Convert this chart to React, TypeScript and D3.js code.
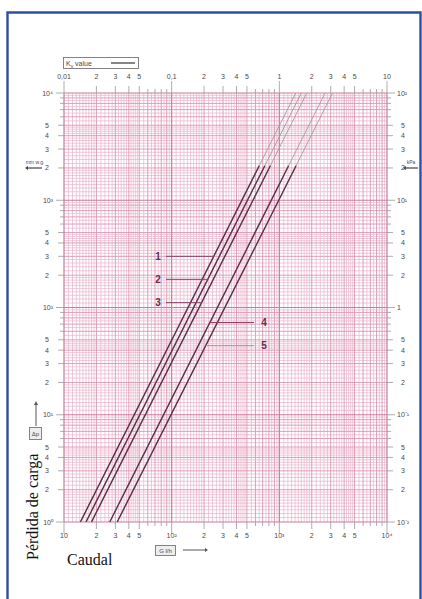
import React from "react";
import * as d3 from "d3";

// ---- data ----
const kvValues = [1.42, 1.6, 1.8, 2.66, 3.12];
const lineLabels = ["1", "2", "3", "4", "5"];
const labelDp = [3.0, 1.83, 1.11, 0.724, 0.441]; // kPa where leaders meet the lines
const flowDomainLh = [10, 10000];
const flowDomainM3h = [0.01, 10];
const dpDomainKpa = [0.01, 100];
const dpDomainMm = [1, 10000];
const darkMaxKpa = 21;
const minorLabelDigits = [2, 3, 4, 5];
const bottomDecadeLabels = ["10", "10²", "10³", "10⁴"];
const topDecadeLabels = ["0,01", "0,1", "1", "10"];
const leftDecadeLabels = ["10⁰", "10¹", "10²", "10³", "10⁴"];
const rightDecadeLabels = ["10⁻²", "10⁻¹", "1", "10¹", "10²"];

const W = 422, H = 599;
const L = 64, R = 387, T = 93, B = 522;

function subdivisions(decade: number): number[] {
  const out: number[] = [];
  for (let v = 1.1; v < 2 - 1e-9; v += 0.1) out.push(+v.toFixed(2) * decade);
  for (let v = 2.2; v < 5 - 1e-9; v += 0.2) out.push(+v.toFixed(2) * decade);
  for (let v = 5.5; v < 10 - 1e-9; v += 0.5) out.push(+v.toFixed(2) * decade);
  return out.filter((v) => Math.abs(v / decade - Math.round(v / decade)) > 1e-6);
}

export default function App() {
  const x = d3.scaleLog().domain(flowDomainLh).range([L, R]);
  const xTop = d3.scaleLog().domain(flowDomainM3h).range([L, R]);
  const y = d3.scaleLog().domain(dpDomainKpa).range([B, T]);
  const yMm = d3.scaleLog().domain(dpDomainMm).range([B, T]);

  const xDecades = [10, 100, 1000];
  const yDecades = [0.01, 0.1, 1, 10];

  const xMinor = xDecades.flatMap(subdivisions);
  const yMinor = yDecades.flatMap(subdivisions);
  const xInt = xDecades.flatMap((d) => d3.range(2, 10).map((k) => k * d));
  const yInt = yDecades.flatMap((d) => d3.range(2, 10).map((k) => k * d));
  const xDec = [10, 100, 1000, 10000];
  const yDec = [0.01, 0.1, 1, 10, 100];

  const flowAt = (kv: number, dp: number) => kv * Math.sqrt(dp / 100) * 1000; // l/h
  const line = d3
    .line<[number, number]>()
    .x((d) => x(d[0]))
    .y((d) => y(d[1]));

  const pink = "#e9b2c8";
  const pinkMid = "#db95b2";
  const pinkDec = "#cc7a9e";
  const maroon = "#5e3049";
  const tickCol = "#999";
  const txt = "#4a4a4a";

  const topTickVals = xDecades.flatMap((d) => d3.range(1, 10).map((k) => k * d)).concat([10000]);
  const yTickVals = yDecades.flatMap((d) => d3.range(1, 10).map((k) => k * d)).concat([100]);

  return (
    <svg
      width={W}
      height={H}
      style={{ position: "absolute", left: 0, top: 0, background: "#fff" }}
      fontFamily="'Liberation Sans', Arial, sans-serif"
    >
      <rect x={0} y={0} width={W} height={H} fill="#fff" />
      {/* blue frame */}
      <path d={`M7.5,${H} V12.5 H420.5 V${H}`} fill="none" stroke="#2d4fa3" strokeWidth={2.4} />

      {/* grid */}
      <g>
        {xMinor.map((v, i) => (
          <line key={"xm" + i} x1={x(v)} x2={x(v)} y1={T} y2={B} stroke={pink} strokeWidth={0.7} />
        ))}
        {yMinor.map((v, i) => (
          <line key={"ym" + i} x1={L} x2={R} y1={y(v)} y2={y(v)} stroke={pink} strokeWidth={0.7} />
        ))}
        {xInt.map((v, i) => (
          <line key={"xi" + i} x1={x(v)} x2={x(v)} y1={T} y2={B} stroke={pinkMid} strokeWidth={0.9} />
        ))}
        {yInt.map((v, i) => (
          <line key={"yi" + i} x1={L} x2={R} y1={y(v)} y2={y(v)} stroke={pinkMid} strokeWidth={0.9} />
        ))}
        {xDec.map((v, i) => (
          <line key={"xd" + i} x1={x(v)} x2={x(v)} y1={T} y2={B} stroke={pinkDec} strokeWidth={1.2} />
        ))}
        {yDec.map((v, i) => (
          <line key={"yd" + i} x1={L} x2={R} y1={y(v)} y2={y(v)} stroke={pinkDec} strokeWidth={1.2} />
        ))}
      </g>

      {/* top & bottom ticks & labels */}
      <g fontSize={7} fill={txt}>
        {topTickVals.map((v, i) => {
          const k = Math.round(v / Math.pow(10, Math.floor(Math.log10(v) + 1e-9)));
          const isDec = k === 1;
          const lab = minorLabelDigits.includes(k);
          const len = isDec ? 12 : lab ? 7 : 4;
          return (
            <g key={"tt" + i}>
              <line x1={x(v)} x2={x(v)} y1={T} y2={T - len} stroke={tickCol} strokeWidth={0.8} />
              <line x1={x(v)} x2={x(v)} y1={B} y2={B + len} stroke={tickCol} strokeWidth={0.8} />
            </g>
          );
        })}
        {[0.01, 0.1, 1, 10].map((v, i) => (
          <text key={"tdl" + i} x={xTop(v)} y={79} textAnchor="middle">
            {topDecadeLabels[i]}
          </text>
        ))}
        {[0.01, 0.1, 1].flatMap((d) =>
          minorLabelDigits.map((k) => (
            <text key={"tml" + d + k} x={xTop(k * d)} y={79} textAnchor="middle">
              {k}
            </text>
          ))
        )}
        {xDec.map((v, i) => (
          <text key={"bdl" + i} x={x(v)} y={538} textAnchor="middle">
            {bottomDecadeLabels[i]}
          </text>
        ))}
        {xDecades.flatMap((d) =>
          minorLabelDigits.map((k) => (
            <text key={"bml" + d + k} x={x(k * d)} y={538} textAnchor="middle">
              {k}
            </text>
          ))
        )}
      </g>

      {/* left & right ticks & labels */}
      <g fontSize={7} fill={txt}>
        {yTickVals.map((v, i) => {
          const k = Math.round(v / Math.pow(10, Math.floor(Math.log10(v) + 1e-9)));
          const isDec = k === 1;
          const len = isDec ? 8 : minorLabelDigits.includes(k) ? 6 : 4;
          return (
            <g key={"yt" + i}>
              <line x1={L} x2={L - len} y1={y(v)} y2={y(v)} stroke={tickCol} strokeWidth={0.8} />
              <line x1={R} x2={R + len} y1={y(v)} y2={y(v)} stroke={tickCol} strokeWidth={0.8} />
            </g>
          );
        })}
        {[1, 10, 100, 1000, 10000].map((v, i) => (
          <text key={"ld" + i} x={53} y={yMm(v) + 2.5} textAnchor="end">
            {leftDecadeLabels[i]}
          </text>
        ))}
        {[1, 10, 100, 1000].flatMap((d) =>
          minorLabelDigits.map((k) => (
            <text key={"lm" + d + k} x={49} y={yMm(k * d) + 2.5} textAnchor="end">
              {k}
            </text>
          ))
        )}
        {yDec.map((v, i) => (
          <text key={"rd" + i} x={397} y={y(v) + 2.5} textAnchor="start">
            {rightDecadeLabels[i]}
          </text>
        ))}
        {yDecades.flatMap((d) =>
          minorLabelDigits.map((k) => (
            <text key={"rm" + d + k} x={401} y={y(k * d) + 2.5} textAnchor="start">
              {k}
            </text>
          ))
        )}
      </g>

      {/* curves: light full extent, dark working range */}
      <g fill="none">
        {kvValues.map((kv, i) => (
          <path
            key={"lc" + i}
            d={line([
              [flowAt(kv, dpDomainKpa[0]), dpDomainKpa[0]],
              [flowAt(kv, dpDomainKpa[1]), dpDomainKpa[1]],
            ])!}
            stroke="#a8979f"
            strokeWidth={0.9}
          />
        ))}
        {kvValues.map((kv, i) => (
          <path
            key={"dc" + i}
            d={line([
              [flowAt(kv, dpDomainKpa[0]), dpDomainKpa[0]],
              [flowAt(kv, darkMaxKpa), darkMaxKpa],
            ])!}
            stroke={maroon}
            strokeWidth={1.4}
          />
        ))}
      </g>

      {/* curve labels with leaders */}
      <g>
        {kvValues.map((kv, i) => {
          const dp = labelDp[i];
          const lx = x(flowAt(kv, dp));
          const ly = y(dp);
          const left = i < 3;
          const tx = left ? 158 : 264;
          return (
            <g key={"lab" + i}>
              <line
                x1={left ? tx + 8 : lx}
                x2={left ? lx : tx - 10}
                y1={ly}
                y2={ly}
                stroke={i === 4 ? "#b58aa0" : "#8a4066"}
                strokeWidth={1}
              />
              <text x={tx} y={ly + 3.5} fontSize={10} fontWeight="bold" fill="#6e2a4f" textAnchor="middle">
                {lineLabels[i]}
              </text>
            </g>
          );
        })}
      </g>

      {/* Kv value legend box */}
      <g>
        <rect x={63.5} y={57.5} width={75} height={11} fill="#fff" stroke="#777" strokeWidth={0.9} />
        <text x={66} y={66} fontSize={7} fill={txt}>
          K<tspan fontSize={5} dy={1.5}>v</tspan>
          <tspan dy={-1.5}> value</tspan>
        </text>
        <line x1={111} x2={135} y1={63} y2={63} stroke="#333" strokeWidth={1.2} />
      </g>

      {/* flow unit box */}
      <g>
        <rect x={155.5} y={545.5} width={20} height={10} fill="#eee" stroke="#777" strokeWidth={0.9} />
        <text x={165.5} y={553} fontSize={6} fill={txt} textAnchor="middle">
          G l/h
        </text>
        <line x1={183} x2={205} y1={550} y2={550} stroke="#555" strokeWidth={1} />
        <path d="M205,548 L208,550 L205,552 Z" fill="#555" />
      </g>

      {/* Δp box and arrow at left */}
      <g>
        <line x1={36} x2={36} y1={426} y2={404} stroke="#555" strokeWidth={1} />
        <path d="M34,405 L36,401 L38,405 Z" fill="#555" />
        <rect x={29.5} y={427.5} width={12} height={12} fill="#eee" stroke="#777" strokeWidth={0.9} />
        <text x={35.5} y={436} fontSize={6} fill={txt} textAnchor="middle">
          Δp
        </text>
      </g>

      {/* unit markers */}
      <g fontSize={5} fill={txt}>
        <line x1={28} x2={42} y1={168} y2={168} stroke="#444" strokeWidth={1.2} />
        <path d="M28,166 L25,168 L28,170 Z" fill="#444" />
        <text x={35} y={164} textAnchor="middle">mm w.g.</text>
        <line x1={406} x2={418} y1={168} y2={168} stroke="#444" strokeWidth={1.2} />
        <path d="M406,166 L403,168 L406,170 Z" fill="#444" />
        <text x={411} y={164} textAnchor="middle">kPa</text>
      </g>

      {/* axis titles */}
      <text
        transform="translate(38,560) rotate(-90)"
        fontFamily="'Liberation Serif', 'Times New Roman', serif"
        fontSize={16}
        fill="#111"
      >
        Pérdida de carga
      </text>
      <text
        x={67}
        y={565}
        fontFamily="'Liberation Serif', 'Times New Roman', serif"
        fontSize={16}
        fill="#111"
      >
        Caudal
      </text>
    </svg>
  );
}
